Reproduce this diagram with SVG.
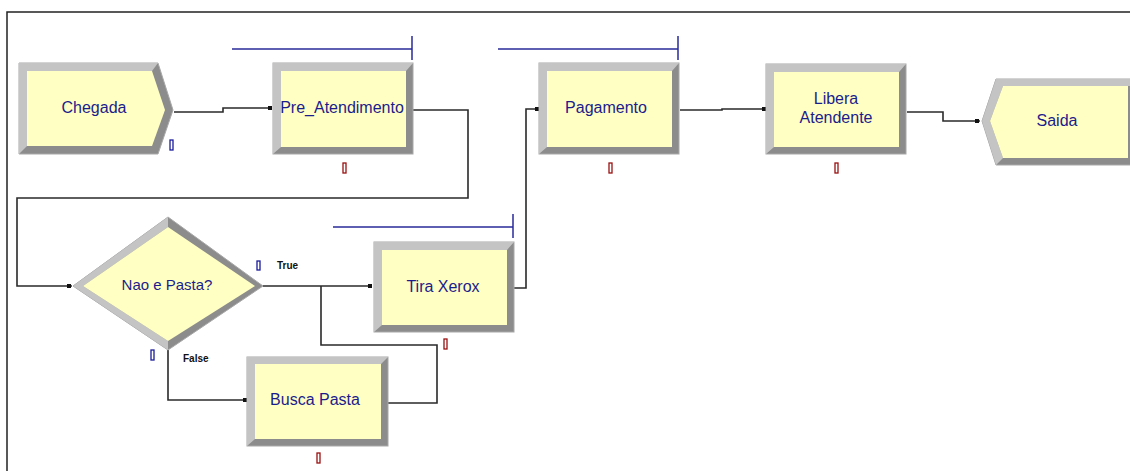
<svg xmlns="http://www.w3.org/2000/svg" width="1130" height="471" viewBox="0 0 1130 471">
<style>
.dark{fill:#8c8c8c;stroke:#a8a8a8;stroke-width:1}
.light{fill:#c4c4c4}
.face{fill:#ffffc4}
.lbl{font-family:"Liberation Sans",Arial,sans-serif;font-size:16px;fill:#1c1c8c;text-anchor:middle}
.small{font-family:"Liberation Sans",Arial,sans-serif;font-size:10px;fill:#111;font-weight:bold}
.queue{stroke:#2a2a9a;stroke-width:1.5;fill:none}
.conn{stroke:#2a2a2a;stroke-width:1.6;fill:none}
.pin{fill:#111}
.bm{fill:#fff;stroke:#1a1a9c;stroke-width:1.3}
.rm{fill:#fff;stroke:#9a1010;stroke-width:1.3}
</style>
<rect width="1130" height="471" fill="#fff"/>
<path d="M7,471 V12 H1130" fill="none" stroke="#222" stroke-width="1.5"/>

<g id="queues">
<path class="queue" d="M232,49 H412 M412,36 V60"/>
<path class="queue" d="M498,49 H678 M678,36 V60"/>
<path class="queue" d="M333,227 H513 M513,214 V238"/>
</g>

<g id="connectors">
<path class="conn" d="M174,112 H223 V108 H271"/>
<rect class="pin" x="268" y="106" width="4" height="4"/>
<path class="conn" d="M413,110 H468 V198 H17 V286 H72"/>
<rect class="pin" x="67" y="284" width="4" height="4"/>
<path class="conn" d="M263,286 H372"/>
<rect class="pin" x="368" y="284" width="4" height="4"/>
<path class="conn" d="M168,350 V400 H246"/>
<rect class="pin" x="243" y="398" width="4" height="4"/>
<path class="conn" d="M388,403 H437 V345 H321 V286"/>
<path class="conn" d="M514,288 H526 V109 H538"/>
<rect class="pin" x="535" y="107" width="4" height="4"/>
<path class="conn" d="M680,110 H722 V109 H765"/>
<rect class="pin" x="762" y="107" width="4" height="4"/>
<path class="conn" d="M907,112 H943 V121 H980"/>
<rect class="pin" x="975" y="119" width="4" height="4"/>
</g>

<g id="chegada">
<polygon class="dark" points="19,63 158,63 173,110 158,154 19,154"/>
<polygon class="light" points="19,63 158,63 152,71 27,71 27,146 19,154"/>
<polygon class="face" points="27,71 152,71 165,110 152,146 27,146"/>
<text class="lbl" x="94" y="113">Chegada</text>
<rect class="bm" x="170" y="140" width="3" height="10"/>
</g>

<g id="pre_atendimento">
<rect class="dark" x="273" y="63" width="140" height="91"/>
<polygon class="light" points="273,63 413,63 406,71 281,71 281,147 273,154"/>
<rect class="face" x="281" y="71" width="125" height="76"/>
<text class="lbl" x="342" y="113">Pre_Atendimento</text>
<rect class="rm" x="343" y="163" width="3" height="10"/>
</g>

<g id="pagamento">
<rect class="dark" x="539" y="63" width="140" height="91"/>
<polygon class="light" points="539,63 679,63 672,71 547,71 547,147 539,154"/>
<rect class="face" x="547" y="71" width="125" height="76"/>
<text class="lbl" x="606" y="113">Pagamento</text>
<rect class="rm" x="609" y="163" width="3" height="10"/>
</g>

<g id="libera_atendente">
<rect class="dark" x="766" y="64" width="140" height="90"/>
<polygon class="light" points="766,64 906,64 899,72 774,72 774,147 766,154"/>
<rect class="face" x="774" y="72" width="125" height="75"/>
<text class="lbl" x="836" y="104">Libera</text>
<text class="lbl" x="836" y="123">Atendente</text>
<rect class="rm" x="835" y="163" width="3" height="10"/>
</g>

<g id="saida">
<polygon class="dark" points="1136,79 996,79 982,121 996,165 1136,165"/>
<polygon class="light" points="1136,79 996,79 982,121 996,165 1003,158 990,121 1003,86 1136,86"/>
<polygon class="face" points="1003,86 1128,86 1128,158 1003,158 990,121"/>
<text class="lbl" x="1057" y="126">Saida</text>
</g>

<g id="nao_e_pasta">
<polygon class="dark" points="73,286 168,217 263,286 168,350"/>
<polygon class="light" points="168,217 168,227 83,286 168,341 168,350 73,286"/>
<polygon class="face" points="83,286 168,227 255,286 168,341"/>
<text class="lbl" x="167" y="289.5" style="font-size:15px">Nao e Pasta?</text>
<rect class="bm" x="257" y="261" width="3" height="9"/>
<text class="small" x="277" y="269">True</text>
<rect class="bm" x="151" y="350" width="3" height="10"/>
<text class="small" x="183" y="362">False</text>
</g>

<g id="tira_xerox">
<rect class="dark" x="374" y="242" width="140" height="90"/>
<polygon class="light" points="374,242 514,242 507,250 382,250 382,325 374,332"/>
<rect class="face" x="382" y="250" width="125" height="75"/>
<text class="lbl" x="443" y="292">Tira Xerox</text>
<rect class="rm" x="444" y="339" width="3" height="10"/>
</g>

<g id="busca_pasta">
<rect class="dark" x="247" y="357" width="141" height="89"/>
<polygon class="light" points="247,357 388,357 381,364 255,364 255,439 247,446"/>
<rect class="face" x="255" y="364" width="126" height="75"/>
<text class="lbl" x="315" y="405">Busca Pasta</text>
<rect class="rm" x="317" y="453" width="3" height="10"/>
</g>
</svg>
